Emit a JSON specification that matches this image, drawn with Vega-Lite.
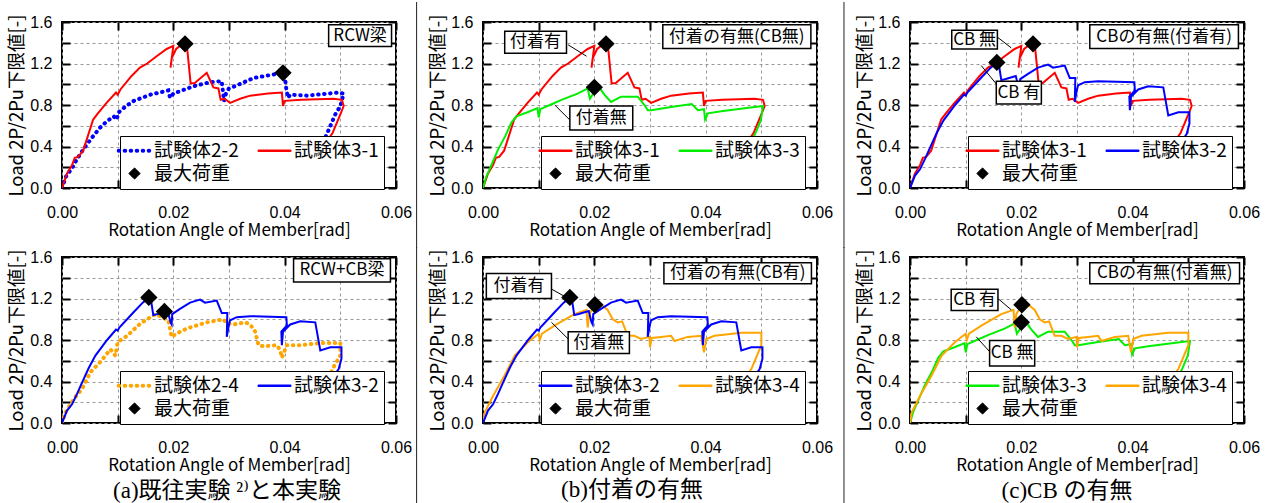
{
  "$schema": "https://vega.github.io/schema/vega-lite/v6.json",
  "background": "white",
  "padding": {"left": 6, "top": 0, "right": 5, "bottom": 0},
  "datasets": {
    "s31": [
      {"x": 0, "y": 0}, {"x": 0.0009, "y": 0.14}, {"x": 0.0018, "y": 0.22}, {"x": 0.0023, "y": 0.29}, {"x": 0.0029, "y": 0.3},
      {"x": 0.0038, "y": 0.36}, {"x": 0.0056, "y": 0.66}, {"x": 0.0063, "y": 0.71}, {"x": 0.008, "y": 0.82}, {"x": 0.0097, "y": 0.92},
      {"x": 0.01, "y": 0.9}, {"x": 0.0105, "y": 0.95}, {"x": 0.0125, "y": 1.08}, {"x": 0.014, "y": 1.16}, {"x": 0.0153, "y": 1.2},
      {"x": 0.017, "y": 1.27}, {"x": 0.0188, "y": 1.34}, {"x": 0.02, "y": 1.37}, {"x": 0.0195, "y": 1.16}, {"x": 0.0197, "y": 1.25},
      {"x": 0.0205, "y": 1.34}, {"x": 0.0212, "y": 1.37}, {"x": 0.0221, "y": 1.39}, {"x": 0.0225, "y": 1.34}, {"x": 0.0231, "y": 1.01},
      {"x": 0.0238, "y": 1.01}, {"x": 0.026, "y": 1.11}, {"x": 0.0272, "y": 0.97}, {"x": 0.0281, "y": 0.96}, {"x": 0.0285, "y": 0.85},
      {"x": 0.0292, "y": 0.86}, {"x": 0.0302, "y": 0.82}, {"x": 0.032, "y": 0.86}, {"x": 0.0338, "y": 0.89}, {"x": 0.037, "y": 0.91},
      {"x": 0.0395, "y": 0.92}, {"x": 0.0397, "y": 0.79}, {"x": 0.04, "y": 0.84}, {"x": 0.043, "y": 0.85}, {"x": 0.0488, "y": 0.86},
      {"x": 0.0503, "y": 0.85}, {"x": 0.0506, "y": 0.79}, {"x": 0.05, "y": 0.71}, {"x": 0.0486, "y": 0.53}, {"x": 0.0411, "y": -0.05}
    ],
    "s22": [
      {"x": 0, "y": 0}, {"x": 0.0008, "y": 0.12}, {"x": 0.0018, "y": 0.19}, {"x": 0.0026, "y": 0.27}, {"x": 0.0038, "y": 0.37},
      {"x": 0.0053, "y": 0.48}, {"x": 0.0068, "y": 0.58}, {"x": 0.008, "y": 0.64}, {"x": 0.0093, "y": 0.69}, {"x": 0.0098, "y": 0.66},
      {"x": 0.0102, "y": 0.73}, {"x": 0.0115, "y": 0.79}, {"x": 0.0129, "y": 0.84}, {"x": 0.0159, "y": 0.9}, {"x": 0.0191, "y": 0.94},
      {"x": 0.0194, "y": 0.87}, {"x": 0.02, "y": 0.91}, {"x": 0.0236, "y": 0.98}, {"x": 0.0266, "y": 1.02}, {"x": 0.0287, "y": 1.03},
      {"x": 0.0291, "y": 0.84}, {"x": 0.0295, "y": 0.92}, {"x": 0.03, "y": 0.96}, {"x": 0.031, "y": 0.98}, {"x": 0.0344, "y": 1.06},
      {"x": 0.0386, "y": 1.1}, {"x": 0.04, "y": 1.09}, {"x": 0.0403, "y": 0.95}, {"x": 0.0406, "y": 0.87}, {"x": 0.041, "y": 0.9},
      {"x": 0.044, "y": 0.89}, {"x": 0.0497, "y": 0.92}, {"x": 0.0506, "y": 0.91}, {"x": 0.05, "y": 0.79}, {"x": 0.0491, "y": 0.71},
      {"x": 0.0479, "y": 0.56}, {"x": 0.047, "y": 0.45}
    ],
    "s33": [
      {"x": 0, "y": 0}, {"x": 0.0006, "y": 0.11}, {"x": 0.0015, "y": 0.22}, {"x": 0.0027, "y": 0.37}, {"x": 0.004, "y": 0.5},
      {"x": 0.0051, "y": 0.63}, {"x": 0.006, "y": 0.69}, {"x": 0.008, "y": 0.73}, {"x": 0.0098, "y": 0.77}, {"x": 0.01, "y": 0.68},
      {"x": 0.0103, "y": 0.76}, {"x": 0.012, "y": 0.8}, {"x": 0.0141, "y": 0.85}, {"x": 0.017, "y": 0.91}, {"x": 0.0188, "y": 0.96},
      {"x": 0.0192, "y": 0.86}, {"x": 0.0197, "y": 0.9}, {"x": 0.02, "y": 0.97}, {"x": 0.0209, "y": 0.97}, {"x": 0.0218, "y": 0.9},
      {"x": 0.023, "y": 0.83}, {"x": 0.0248, "y": 0.88}, {"x": 0.0278, "y": 0.88}, {"x": 0.029, "y": 0.8}, {"x": 0.0296, "y": 0.75},
      {"x": 0.0302, "y": 0.75}, {"x": 0.0338, "y": 0.78}, {"x": 0.0375, "y": 0.81}, {"x": 0.0386, "y": 0.75}, {"x": 0.0397, "y": 0.76},
      {"x": 0.0399, "y": 0.66}, {"x": 0.0404, "y": 0.72}, {"x": 0.0428, "y": 0.74}, {"x": 0.0488, "y": 0.78}, {"x": 0.0503, "y": 0.79},
      {"x": 0.0499, "y": 0.65}, {"x": 0.0488, "y": 0.51}, {"x": 0.0422, "y": -0.05}
    ],
    "s32": [
      {"x": 0, "y": 0}, {"x": 0.0009, "y": 0.12}, {"x": 0.0018, "y": 0.18}, {"x": 0.0027, "y": 0.28}, {"x": 0.0036, "y": 0.39},
      {"x": 0.0048, "y": 0.53}, {"x": 0.006, "y": 0.65}, {"x": 0.0081, "y": 0.8}, {"x": 0.0097, "y": 0.9}, {"x": 0.01, "y": 0.89},
      {"x": 0.0103, "y": 0.92}, {"x": 0.0129, "y": 1.07}, {"x": 0.0145, "y": 1.16}, {"x": 0.0156, "y": 1.21}, {"x": 0.016, "y": 1.18},
      {"x": 0.0164, "y": 1.04}, {"x": 0.0172, "y": 1.05}, {"x": 0.019, "y": 1.08}, {"x": 0.0195, "y": 0.97}, {"x": 0.0197, "y": 0.95},
      {"x": 0.0198, "y": 1.05}, {"x": 0.0212, "y": 1.1}, {"x": 0.023, "y": 1.16}, {"x": 0.0248, "y": 1.19}, {"x": 0.0257, "y": 1.16},
      {"x": 0.0278, "y": 1.18}, {"x": 0.0287, "y": 1.06}, {"x": 0.0297, "y": 1.06}, {"x": 0.0296, "y": 0.83}, {"x": 0.03, "y": 0.95},
      {"x": 0.0302, "y": 0.99}, {"x": 0.0314, "y": 1.02}, {"x": 0.0338, "y": 1.03}, {"x": 0.0403, "y": 1.02}, {"x": 0.0404, "y": 0.94},
      {"x": 0.0394, "y": 0.88}, {"x": 0.0395, "y": 0.75}, {"x": 0.0397, "y": 0.88}, {"x": 0.041, "y": 0.95}, {"x": 0.0428, "y": 0.98},
      {"x": 0.0455, "y": 0.97}, {"x": 0.0464, "y": 0.7}, {"x": 0.0482, "y": 0.73}, {"x": 0.0502, "y": 0.73}, {"x": 0.0502, "y": 0.62},
      {"x": 0.0497, "y": 0.52}, {"x": 0.042, "y": -0.05}
    ],
    "s34": [
      {"x": 0, "y": 0}, {"x": 0.0003, "y": 0.1}, {"x": 0.0018, "y": 0.26}, {"x": 0.0039, "y": 0.46}, {"x": 0.0057, "y": 0.65},
      {"x": 0.0081, "y": 0.78}, {"x": 0.01, "y": 0.86}, {"x": 0.0102, "y": 0.8}, {"x": 0.0106, "y": 0.86}, {"x": 0.0129, "y": 0.94},
      {"x": 0.0164, "y": 1.05}, {"x": 0.0186, "y": 1.09}, {"x": 0.0188, "y": 0.92}, {"x": 0.0191, "y": 1.05}, {"x": 0.02, "y": 1.13},
      {"x": 0.0215, "y": 1.13}, {"x": 0.0224, "y": 1.09}, {"x": 0.0233, "y": 1.0}, {"x": 0.0242, "y": 0.97}, {"x": 0.025, "y": 0.98},
      {"x": 0.026, "y": 0.84}, {"x": 0.0272, "y": 0.84}, {"x": 0.0284, "y": 0.81}, {"x": 0.0299, "y": 0.83}, {"x": 0.03, "y": 0.73},
      {"x": 0.0303, "y": 0.82}, {"x": 0.032, "y": 0.83}, {"x": 0.0338, "y": 0.84}, {"x": 0.0344, "y": 0.79}, {"x": 0.0368, "y": 0.83},
      {"x": 0.0392, "y": 0.84}, {"x": 0.0397, "y": 0.68}, {"x": 0.0401, "y": 0.81}, {"x": 0.0416, "y": 0.84}, {"x": 0.0464, "y": 0.87},
      {"x": 0.05, "y": 0.87}, {"x": 0.05, "y": 0.75}, {"x": 0.0482, "y": 0.52}, {"x": 0.0409, "y": -0.05}
    ],
    "s24": [
      {"x": 0, "y": 0}, {"x": 0.0006, "y": 0.1}, {"x": 0.0021, "y": 0.23}, {"x": 0.0036, "y": 0.33}, {"x": 0.0051, "y": 0.49},
      {"x": 0.0069, "y": 0.59}, {"x": 0.0087, "y": 0.71}, {"x": 0.0096, "y": 0.65}, {"x": 0.01, "y": 0.78}, {"x": 0.0117, "y": 0.84},
      {"x": 0.0141, "y": 0.96}, {"x": 0.0153, "y": 1.0}, {"x": 0.0168, "y": 1.05}, {"x": 0.0191, "y": 0.99}, {"x": 0.0197, "y": 0.83},
      {"x": 0.0205, "y": 0.86}, {"x": 0.0224, "y": 0.91}, {"x": 0.026, "y": 0.97}, {"x": 0.029, "y": 1.0}, {"x": 0.0296, "y": 0.96},
      {"x": 0.0308, "y": 0.95}, {"x": 0.0329, "y": 0.97}, {"x": 0.0338, "y": 0.95}, {"x": 0.0347, "y": 0.88}, {"x": 0.0353, "y": 0.75},
      {"x": 0.0362, "y": 0.74}, {"x": 0.0386, "y": 0.75}, {"x": 0.0392, "y": 0.7}, {"x": 0.0395, "y": 0.63}, {"x": 0.0404, "y": 0.75},
      {"x": 0.0428, "y": 0.75}, {"x": 0.0464, "y": 0.77}, {"x": 0.05, "y": 0.77}, {"x": 0.05, "y": 0.65}, {"x": 0.0489, "y": 0.55},
      {"x": 0.048, "y": 0.45}
    ],
    "peaks": [
      {"k": "3-1", "x": 0.0221, "y": 1.39}, {"k": "2-2", "x": 0.0397, "y": 1.11}, {"k": "3-3", "x": 0.02, "y": 0.97},
      {"k": "3-2", "x": 0.0156, "y": 1.21}, {"k": "2-4", "x": 0.0184, "y": 1.075}, {"k": "3-4", "x": 0.0201, "y": 1.14}
    ],
    "boxes": [
      {"p": "a", "t": "RCW梁", "x": 0.0479, "x2": 0.0592, "y": 1.365, "y2": 1.574},
      {"p": "b", "t": "付着の有無(CB無)", "x": 0.0323, "x2": 0.0589, "y": 1.345, "y2": 1.574},
      {"p": "b", "t": "付着有", "x": 0.0039, "x2": 0.015, "y": 1.3, "y2": 1.51},
      {"p": "b", "t": "付着無", "x": 0.0156, "x2": 0.0269, "y": 0.56, "y2": 0.79},
      {"p": "c", "t": "CBの有無(付着有)", "x": 0.0323, "x2": 0.059, "y": 1.345, "y2": 1.574},
      {"p": "c", "t": "CB 無", "x": 0.0075, "x2": 0.0157, "y": 1.34, "y2": 1.52},
      {"p": "c", "t": "CB 有", "x": 0.0155, "x2": 0.0236, "y": 0.81, "y2": 1.03},
      {"p": "d", "t": "RCW+CB梁", "x": 0.0416, "x2": 0.059, "y": 1.358, "y2": 1.584},
      {"p": "e", "t": "付着の有無(CB有)", "x": 0.0325, "x2": 0.059, "y": 1.342, "y2": 1.545},
      {"p": "e", "t": "付着有", "x": 0.0006, "x2": 0.0123, "y": 1.2, "y2": 1.44},
      {"p": "e", "t": "付着無", "x": 0.0153, "x2": 0.0263, "y": 0.67, "y2": 0.88},
      {"p": "f", "t": "CBの有無(付着無)", "x": 0.0323, "x2": 0.0592, "y": 1.342, "y2": 1.545},
      {"p": "f", "t": "CB 有", "x": 0.0074, "x2": 0.0158, "y": 1.085, "y2": 1.29},
      {"p": "f", "t": "CB 無", "x": 0.0143, "x2": 0.0224, "y": 0.55, "y2": 0.795}
    ],
    "leaders": [
      {"p": "b", "x": 0.0153, "y": 1.38, "x2": 0.0186, "y2": 1.27},
      {"p": "b", "x": 0.0129, "y": 0.8, "x2": 0.0157, "y2": 0.65},
      {"p": "c", "x": 0.0158, "y": 1.45, "x2": 0.0182, "y2": 1.35},
      {"p": "c", "x": 0.0128, "y": 1.18, "x2": 0.0157, "y2": 0.99},
      {"p": "e", "x": 0.012, "y": 1.3, "x2": 0.015, "y2": 1.21},
      {"p": "e", "x": 0.0123, "y": 0.97, "x2": 0.0153, "y2": 0.81},
      {"p": "f", "x": 0.0158, "y": 1.2, "x2": 0.0182, "y2": 1.09},
      {"p": "f", "x": 0.0119, "y": 0.83, "x2": 0.0146, "y2": 0.67}
    ],
    "dividers": [
      {"d": "a1", "x": 0.0637, "y": 1.793, "y2": -0.578},
      {"d": "c1", "x": -0.01186, "y": 1.793, "y2": -0.578},
      {"d": "a2", "x": 0.0637, "y": 1.696, "y2": -0.83},
      {"d": "c2", "x": -0.01186, "y": 1.696, "y2": -0.83},
      {"d": "b2", "x": 0.03, "y": 1.0, "y2": -0.83}
    ]
  },
  "vconcat": [
    {
      "hconcat": [
        {
          "width": 334, "height": 166,
          "encoding": {
            "x": {"field": "x", "type": "quantitative", "scale": {"domain": [0, 0.06], "nice": false}, "title": "Rotation Angle of Member[rad]", "axis": {"values": [0, 0.01, 0.02, 0.03, 0.04, 0.05, 0.06]}},
            "y": {"field": "y", "type": "quantitative", "scale": {"domain": [0, 1.6], "nice": false}, "title": "Load 2P/2Pu下限値[-]", "axis": {"values": [0, 0.2, 0.4, 0.6, 0.8, 1.0, 1.2, 1.4, 1.6]}}
          },
          "layer": [
            {"layer": [
              {"data": {"name": "s22"}, "mark": {"type": "line", "clip": true, "strokeWidth": 4, "strokeDash": [0.5, 5.5], "strokeCap": "round"},
               "encoding": {"order": {"value": null}, "color": {"datum": "試験体2-2", "type": "nominal", "scale": {"domain": ["試験体2-2", "試験体3-1", "最大荷重"], "range": ["#0000ff", "#ff0000", "#000000"]},
                 "legend": {"orient": "none", "legendX": 58, "legendY": 114, "title": null, "columns": 2, "direction": "horizontal",
                   "encode": {"symbols": {"update": {
                     "shape": {"signal": "datum.value === '最大荷重' ? 'diamond' : 'stroke'"},
                     "size": {"signal": "datum.value === '最大荷重' ? 120 : 1000"},
                     "fill": {"signal": "datum.value === '最大荷重' ? '#000000' : 'transparent'"},
                     "strokeDash": {"signal": "indexof(['試験体2-2', '試験体2-4'], datum.value) >= 0 ? [0.5, 5.5] : [1, 0]"},
                     "strokeWidth": {"signal": "indexof(['試験体2-2', '試験体2-4'], datum.value) >= 0 ? 4 : (datum.value === '最大荷重' ? 1 : 2.5)"},
                     "strokeCap": {"value": "round"}}}}}}}},
              {"data": {"name": "s31"}, "mark": {"type": "line", "clip": true, "strokeWidth": 2},
               "encoding": {"order": {"value": null}, "color": {"datum": "試験体3-1", "type": "nominal", "scale": {"domain": ["試験体2-2", "試験体3-1", "最大荷重"], "range": ["#0000ff", "#ff0000", "#000000"]}}}},
              {"data": {"name": "peaks"}, "transform": [{"filter": {"field": "k", "oneOf": ["3-1", "2-2"]}}],
               "mark": {"type": "point", "shape": "diamond", "filled": true, "size": 300, "opacity": 1},
               "encoding": {"color": {"datum": "最大荷重", "type": "nominal", "scale": {"domain": ["試験体2-2", "試験体3-1", "最大荷重"], "range": ["#0000ff", "#ff0000", "#000000"]}}}},
              {"data": {"name": "boxes"}, "transform": [{"filter": "datum.p === 'a'"}],
               "mark": {"type": "rect", "fill": "white", "stroke": "black", "strokeWidth": 1.5},
               "encoding": {"x2": {"field": "x2"}, "y2": {"field": "y2"}}},
              {"data": {"name": "boxes"}, "transform": [{"filter": "datum.p === 'a'"}, {"calculate": "(datum.x + datum.x2) / 2", "as": "xm"}, {"calculate": "(datum.y + datum.y2) / 2", "as": "ym"}],
               "mark": {"type": "text", "fontSize": 17, "color": "black"},
               "encoding": {
                 "x": {"field": "xm", "type": "quantitative", "scale": {"domain": [0, 0.06], "nice": false}, "title": "Rotation Angle of Member[rad]", "axis": {"values": [0, 0.01, 0.02, 0.03, 0.04, 0.05, 0.06]}},
                 "y": {"field": "ym", "type": "quantitative", "scale": {"domain": [0, 1.6], "nice": false}, "title": "Load 2P/2Pu下限値[-]", "axis": {"values": [0, 0.2, 0.4, 0.6, 0.8, 1.0, 1.2, 1.4, 1.6]}},
                 "text": {"field": "t"}}}
            ]},
            {"data": {"name": "peaks"}, "mark": {"type": "point", "opacity": 0},
             "encoding": {
               "x": {"field": "x", "type": "quantitative", "scale": {"domain": [0, 0.06], "nice": false}, "axis": {"orient": "top", "labels": false, "grid": false, "title": null, "values": [0, 0.01, 0.02, 0.03, 0.04, 0.05, 0.06]}},
               "y": {"field": "y", "type": "quantitative", "scale": {"domain": [0, 1.6], "nice": false}, "axis": {"orient": "right", "labels": false, "grid": false, "title": null, "values": [0, 0.2, 0.4, 0.6, 0.8, 1.0, 1.2, 1.4, 1.6]}}}},
            {"data": {"name": "dividers"}, "transform": [{"filter": "datum.d === 'a1'"}],
             "mark": {"type": "rule", "clip": false, "color": "#222222", "strokeWidth": 1},
             "encoding": {
               "x": {"field": "x", "type": "quantitative", "scale": {"domain": [0, 0.06], "nice": false}, "axis": null},
               "y": {"field": "y", "type": "quantitative", "scale": {"domain": [0, 1.6], "nice": false}, "axis": null},
               "y2": {"field": "y2"}}}
          ],
          "resolve": {"axis": {"x": "independent", "y": "independent"}}
        },
        {
          "width": 334, "height": 166,
          "encoding": {
            "x": {"field": "x", "type": "quantitative", "scale": {"domain": [0, 0.06], "nice": false}, "title": "Rotation Angle of Member[rad]", "axis": {"values": [0, 0.01, 0.02, 0.03, 0.04, 0.05, 0.06]}},
            "y": {"field": "y", "type": "quantitative", "scale": {"domain": [0, 1.6], "nice": false}, "title": "Load 2P/2Pu下限値[-]", "axis": {"values": [0, 0.2, 0.4, 0.6, 0.8, 1.0, 1.2, 1.4, 1.6]}}
          },
          "layer": [
            {"layer": [
              {"data": {"name": "s31"}, "mark": {"type": "line", "clip": true, "strokeWidth": 2},
               "encoding": {"order": {"value": null}, "color": {"datum": "試験体3-1", "type": "nominal", "scale": {"domain": ["試験体3-1", "試験体3-3", "最大荷重"], "range": ["#ff0000", "#00ee00", "#000000"]},
                 "legend": {"orient": "none", "legendX": 58, "legendY": 114, "title": null, "columns": 2, "direction": "horizontal",
                   "encode": {"symbols": {"update": {
                     "shape": {"signal": "datum.value === '最大荷重' ? 'diamond' : 'stroke'"},
                     "size": {"signal": "datum.value === '最大荷重' ? 120 : 1000"},
                     "fill": {"signal": "datum.value === '最大荷重' ? '#000000' : 'transparent'"},
                     "strokeDash": {"signal": "indexof(['試験体2-2', '試験体2-4'], datum.value) >= 0 ? [0.5, 5.5] : [1, 0]"},
                     "strokeWidth": {"signal": "indexof(['試験体2-2', '試験体2-4'], datum.value) >= 0 ? 4 : (datum.value === '最大荷重' ? 1 : 2.5)"},
                     "strokeCap": {"value": "round"}}}}}}}},
              {"data": {"name": "s33"}, "mark": {"type": "line", "clip": true, "strokeWidth": 2},
               "encoding": {"order": {"value": null}, "color": {"datum": "試験体3-3", "type": "nominal", "scale": {"domain": ["試験体3-1", "試験体3-3", "最大荷重"], "range": ["#ff0000", "#00ee00", "#000000"]}}}},
              {"data": {"name": "leaders"}, "transform": [{"filter": "datum.p === 'b'"}],
               "mark": {"type": "rule", "color": "black", "strokeWidth": 1},
               "encoding": {"x2": {"field": "x2"}, "y2": {"field": "y2"}}},
              {"data": {"name": "peaks"}, "transform": [{"filter": {"field": "k", "oneOf": ["3-1", "3-3"]}}],
               "mark": {"type": "point", "shape": "diamond", "filled": true, "size": 300, "opacity": 1},
               "encoding": {"color": {"datum": "最大荷重", "type": "nominal", "scale": {"domain": ["試験体3-1", "試験体3-3", "最大荷重"], "range": ["#ff0000", "#00ee00", "#000000"]}}}},
              {"data": {"name": "boxes"}, "transform": [{"filter": "datum.p === 'b'"}],
               "mark": {"type": "rect", "fill": "white", "stroke": "black", "strokeWidth": 1.5},
               "encoding": {"x2": {"field": "x2"}, "y2": {"field": "y2"}}},
              {"data": {"name": "boxes"}, "transform": [{"filter": "datum.p === 'b'"}, {"calculate": "(datum.x + datum.x2) / 2", "as": "xm"}, {"calculate": "(datum.y + datum.y2) / 2", "as": "ym"}],
               "mark": {"type": "text", "fontSize": 17, "color": "black"},
               "encoding": {
                 "x": {"field": "xm", "type": "quantitative", "scale": {"domain": [0, 0.06], "nice": false}, "title": "Rotation Angle of Member[rad]", "axis": {"values": [0, 0.01, 0.02, 0.03, 0.04, 0.05, 0.06]}},
                 "y": {"field": "ym", "type": "quantitative", "scale": {"domain": [0, 1.6], "nice": false}, "title": "Load 2P/2Pu下限値[-]", "axis": {"values": [0, 0.2, 0.4, 0.6, 0.8, 1.0, 1.2, 1.4, 1.6]}},
                 "text": {"field": "t"}}}
            ]},
            {"data": {"name": "peaks"}, "mark": {"type": "point", "opacity": 0},
             "encoding": {
               "x": {"field": "x", "type": "quantitative", "scale": {"domain": [0, 0.06], "nice": false}, "axis": {"orient": "top", "labels": false, "grid": false, "title": null, "values": [0, 0.01, 0.02, 0.03, 0.04, 0.05, 0.06]}},
               "y": {"field": "y", "type": "quantitative", "scale": {"domain": [0, 1.6], "nice": false}, "axis": {"orient": "right", "labels": false, "grid": false, "title": null, "values": [0, 0.2, 0.4, 0.6, 0.8, 1.0, 1.2, 1.4, 1.6]}}}}
          ],
          "resolve": {"axis": {"x": "independent", "y": "independent"}}
        },
        {
          "width": 334, "height": 166,
          "encoding": {
            "x": {"field": "x", "type": "quantitative", "scale": {"domain": [0, 0.06], "nice": false}, "title": "Rotation Angle of Member[rad]", "axis": {"values": [0, 0.01, 0.02, 0.03, 0.04, 0.05, 0.06]}},
            "y": {"field": "y", "type": "quantitative", "scale": {"domain": [0, 1.6], "nice": false}, "title": "Load 2P/2Pu下限値[-]", "axis": {"values": [0, 0.2, 0.4, 0.6, 0.8, 1.0, 1.2, 1.4, 1.6]}}
          },
          "layer": [
            {"layer": [
              {"data": {"name": "s31"}, "mark": {"type": "line", "clip": true, "strokeWidth": 2},
               "encoding": {"order": {"value": null}, "color": {"datum": "試験体3-1", "type": "nominal", "scale": {"domain": ["試験体3-1", "試験体3-2", "最大荷重"], "range": ["#ff0000", "#0000ff", "#000000"]},
                 "legend": {"orient": "none", "legendX": 58, "legendY": 114, "title": null, "columns": 2, "direction": "horizontal",
                   "encode": {"symbols": {"update": {
                     "shape": {"signal": "datum.value === '最大荷重' ? 'diamond' : 'stroke'"},
                     "size": {"signal": "datum.value === '最大荷重' ? 120 : 1000"},
                     "fill": {"signal": "datum.value === '最大荷重' ? '#000000' : 'transparent'"},
                     "strokeDash": {"signal": "indexof(['試験体2-2', '試験体2-4'], datum.value) >= 0 ? [0.5, 5.5] : [1, 0]"},
                     "strokeWidth": {"signal": "indexof(['試験体2-2', '試験体2-4'], datum.value) >= 0 ? 4 : (datum.value === '最大荷重' ? 1 : 2.5)"},
                     "strokeCap": {"value": "round"}}}}}}}},
              {"data": {"name": "s32"}, "mark": {"type": "line", "clip": true, "strokeWidth": 2},
               "encoding": {"order": {"value": null}, "color": {"datum": "試験体3-2", "type": "nominal", "scale": {"domain": ["試験体3-1", "試験体3-2", "最大荷重"], "range": ["#ff0000", "#0000ff", "#000000"]}}}},
              {"data": {"name": "leaders"}, "transform": [{"filter": "datum.p === 'c'"}],
               "mark": {"type": "rule", "color": "black", "strokeWidth": 1},
               "encoding": {"x2": {"field": "x2"}, "y2": {"field": "y2"}}},
              {"data": {"name": "peaks"}, "transform": [{"filter": {"field": "k", "oneOf": ["3-1", "3-2"]}}],
               "mark": {"type": "point", "shape": "diamond", "filled": true, "size": 300, "opacity": 1},
               "encoding": {"color": {"datum": "最大荷重", "type": "nominal", "scale": {"domain": ["試験体3-1", "試験体3-2", "最大荷重"], "range": ["#ff0000", "#0000ff", "#000000"]}}}},
              {"data": {"name": "boxes"}, "transform": [{"filter": "datum.p === 'c'"}],
               "mark": {"type": "rect", "fill": "white", "stroke": "black", "strokeWidth": 1.5},
               "encoding": {"x2": {"field": "x2"}, "y2": {"field": "y2"}}},
              {"data": {"name": "boxes"}, "transform": [{"filter": "datum.p === 'c'"}, {"calculate": "(datum.x + datum.x2) / 2", "as": "xm"}, {"calculate": "(datum.y + datum.y2) / 2", "as": "ym"}],
               "mark": {"type": "text", "fontSize": 17, "color": "black"},
               "encoding": {
                 "x": {"field": "xm", "type": "quantitative", "scale": {"domain": [0, 0.06], "nice": false}, "title": "Rotation Angle of Member[rad]", "axis": {"values": [0, 0.01, 0.02, 0.03, 0.04, 0.05, 0.06]}},
                 "y": {"field": "ym", "type": "quantitative", "scale": {"domain": [0, 1.6], "nice": false}, "title": "Load 2P/2Pu下限値[-]", "axis": {"values": [0, 0.2, 0.4, 0.6, 0.8, 1.0, 1.2, 1.4, 1.6]}},
                 "text": {"field": "t"}}}
            ]},
            {"data": {"name": "peaks"}, "mark": {"type": "point", "opacity": 0},
             "encoding": {
               "x": {"field": "x", "type": "quantitative", "scale": {"domain": [0, 0.06], "nice": false}, "axis": {"orient": "top", "labels": false, "grid": false, "title": null, "values": [0, 0.01, 0.02, 0.03, 0.04, 0.05, 0.06]}},
               "y": {"field": "y", "type": "quantitative", "scale": {"domain": [0, 1.6], "nice": false}, "axis": {"orient": "right", "labels": false, "grid": false, "title": null, "values": [0, 0.2, 0.4, 0.6, 0.8, 1.0, 1.2, 1.4, 1.6]}}}},
            {"data": {"name": "dividers"}, "transform": [{"filter": "datum.d === 'c1'"}],
             "mark": {"type": "rule", "clip": false, "color": "#222222", "strokeWidth": 1},
             "encoding": {
               "x": {"field": "x", "type": "quantitative", "scale": {"domain": [0, 0.06], "nice": false}, "axis": null},
               "y": {"field": "y", "type": "quantitative", "scale": {"domain": [0, 1.6], "nice": false}, "axis": null},
               "y2": {"field": "y2"}}}
          ],
          "resolve": {"axis": {"x": "independent", "y": "independent"}}
        }
      ],
      "spacing": 8,
      "resolve": {"scale": {"color": "independent"}, "legend": {"color": "independent"}}
    },
    {
      "hconcat": [
        {
          "width": 334, "height": 166,
          "title": {"text": "(a)既往実験 ²⁾と本実験", "orient": "bottom", "anchor": "middle", "dx": -2},
          "encoding": {
            "x": {"field": "x", "type": "quantitative", "scale": {"domain": [0, 0.06], "nice": false}, "title": "Rotation Angle of Member[rad]", "axis": {"values": [0, 0.01, 0.02, 0.03, 0.04, 0.05, 0.06]}},
            "y": {"field": "y", "type": "quantitative", "scale": {"domain": [0, 1.6], "nice": false}, "title": "Load 2P/2Pu下限値[-]", "axis": {"values": [0, 0.2, 0.4, 0.6, 0.8, 1.0, 1.2, 1.4, 1.6]}}
          },
          "layer": [
            {"layer": [
              {"data": {"name": "s24"}, "mark": {"type": "line", "clip": true, "strokeWidth": 4, "strokeDash": [0.5, 5.5], "strokeCap": "round"},
               "encoding": {"order": {"value": null}, "color": {"datum": "試験体2-4", "type": "nominal", "scale": {"domain": ["試験体2-4", "試験体3-2", "最大荷重"], "range": ["#ffa500", "#0000ff", "#000000"]},
                 "legend": {"orient": "none", "legendX": 58, "legendY": 114, "title": null, "columns": 2, "direction": "horizontal",
                   "encode": {"symbols": {"update": {
                     "shape": {"signal": "datum.value === '最大荷重' ? 'diamond' : 'stroke'"},
                     "size": {"signal": "datum.value === '最大荷重' ? 120 : 1000"},
                     "fill": {"signal": "datum.value === '最大荷重' ? '#000000' : 'transparent'"},
                     "strokeDash": {"signal": "indexof(['試験体2-2', '試験体2-4'], datum.value) >= 0 ? [0.5, 5.5] : [1, 0]"},
                     "strokeWidth": {"signal": "indexof(['試験体2-2', '試験体2-4'], datum.value) >= 0 ? 4 : (datum.value === '最大荷重' ? 1 : 2.5)"},
                     "strokeCap": {"value": "round"}}}}}}}},
              {"data": {"name": "s32"}, "mark": {"type": "line", "clip": true, "strokeWidth": 2},
               "encoding": {"order": {"value": null}, "color": {"datum": "試験体3-2", "type": "nominal", "scale": {"domain": ["試験体2-4", "試験体3-2", "最大荷重"], "range": ["#ffa500", "#0000ff", "#000000"]}}}},
              {"data": {"name": "peaks"}, "transform": [{"filter": {"field": "k", "oneOf": ["2-4", "3-2"]}}],
               "mark": {"type": "point", "shape": "diamond", "filled": true, "size": 300, "opacity": 1},
               "encoding": {"color": {"datum": "最大荷重", "type": "nominal", "scale": {"domain": ["試験体2-4", "試験体3-2", "最大荷重"], "range": ["#ffa500", "#0000ff", "#000000"]}}}},
              {"data": {"name": "boxes"}, "transform": [{"filter": "datum.p === 'd'"}],
               "mark": {"type": "rect", "fill": "white", "stroke": "black", "strokeWidth": 1.5},
               "encoding": {"x2": {"field": "x2"}, "y2": {"field": "y2"}}},
              {"data": {"name": "boxes"}, "transform": [{"filter": "datum.p === 'd'"}, {"calculate": "(datum.x + datum.x2) / 2", "as": "xm"}, {"calculate": "(datum.y + datum.y2) / 2", "as": "ym"}],
               "mark": {"type": "text", "fontSize": 17, "color": "black"},
               "encoding": {
                 "x": {"field": "xm", "type": "quantitative", "scale": {"domain": [0, 0.06], "nice": false}, "title": "Rotation Angle of Member[rad]", "axis": {"values": [0, 0.01, 0.02, 0.03, 0.04, 0.05, 0.06]}},
                 "y": {"field": "ym", "type": "quantitative", "scale": {"domain": [0, 1.6], "nice": false}, "title": "Load 2P/2Pu下限値[-]", "axis": {"values": [0, 0.2, 0.4, 0.6, 0.8, 1.0, 1.2, 1.4, 1.6]}},
                 "text": {"field": "t"}}}
            ]},
            {"data": {"name": "peaks"}, "mark": {"type": "point", "opacity": 0},
             "encoding": {
               "x": {"field": "x", "type": "quantitative", "scale": {"domain": [0, 0.06], "nice": false}, "axis": {"orient": "top", "labels": false, "grid": false, "title": null, "values": [0, 0.01, 0.02, 0.03, 0.04, 0.05, 0.06]}},
               "y": {"field": "y", "type": "quantitative", "scale": {"domain": [0, 1.6], "nice": false}, "axis": {"orient": "right", "labels": false, "grid": false, "title": null, "values": [0, 0.2, 0.4, 0.6, 0.8, 1.0, 1.2, 1.4, 1.6]}}}},
            {"data": {"name": "dividers"}, "transform": [{"filter": "datum.d === 'a2'"}],
             "mark": {"type": "rule", "clip": false, "color": "#222222", "strokeWidth": 1},
             "encoding": {
               "x": {"field": "x", "type": "quantitative", "scale": {"domain": [0, 0.06], "nice": false}, "axis": null},
               "y": {"field": "y", "type": "quantitative", "scale": {"domain": [0, 1.6], "nice": false}, "axis": null},
               "y2": {"field": "y2"}}}
          ],
          "resolve": {"axis": {"x": "independent", "y": "independent"}}
        },
        {
          "width": 334, "height": 166,
          "title": {"text": "(b)付着の有無", "orient": "bottom", "anchor": "middle", "dx": -18},
          "encoding": {
            "x": {"field": "x", "type": "quantitative", "scale": {"domain": [0, 0.06], "nice": false}, "title": "Rotation Angle of Member[rad]", "axis": {"values": [0, 0.01, 0.02, 0.03, 0.04, 0.05, 0.06]}},
            "y": {"field": "y", "type": "quantitative", "scale": {"domain": [0, 1.6], "nice": false}, "title": "Load 2P/2Pu下限値[-]", "axis": {"values": [0, 0.2, 0.4, 0.6, 0.8, 1.0, 1.2, 1.4, 1.6]}}
          },
          "layer": [
            {"layer": [
              {"data": {"name": "s34"}, "mark": {"type": "line", "clip": true, "strokeWidth": 2},
               "encoding": {"order": {"value": null}, "color": {"datum": "試験体3-4", "type": "nominal", "scale": {"domain": ["試験体3-2", "試験体3-4", "最大荷重"], "range": ["#0000ff", "#ffa500", "#000000"]},
                 "legend": {"orient": "none", "legendX": 58, "legendY": 114, "title": null, "columns": 2, "direction": "horizontal",
                   "encode": {"symbols": {"update": {
                     "shape": {"signal": "datum.value === '最大荷重' ? 'diamond' : 'stroke'"},
                     "size": {"signal": "datum.value === '最大荷重' ? 120 : 1000"},
                     "fill": {"signal": "datum.value === '最大荷重' ? '#000000' : 'transparent'"},
                     "strokeDash": {"signal": "indexof(['試験体2-2', '試験体2-4'], datum.value) >= 0 ? [0.5, 5.5] : [1, 0]"},
                     "strokeWidth": {"signal": "indexof(['試験体2-2', '試験体2-4'], datum.value) >= 0 ? 4 : (datum.value === '最大荷重' ? 1 : 2.5)"},
                     "strokeCap": {"value": "round"}}}}}}}},
              {"data": {"name": "s32"}, "mark": {"type": "line", "clip": true, "strokeWidth": 2},
               "encoding": {"order": {"value": null}, "color": {"datum": "試験体3-2", "type": "nominal", "scale": {"domain": ["試験体3-2", "試験体3-4", "最大荷重"], "range": ["#0000ff", "#ffa500", "#000000"]}}}},
              {"data": {"name": "leaders"}, "transform": [{"filter": "datum.p === 'e'"}],
               "mark": {"type": "rule", "color": "black", "strokeWidth": 1},
               "encoding": {"x2": {"field": "x2"}, "y2": {"field": "y2"}}},
              {"data": {"name": "peaks"}, "transform": [{"filter": {"field": "k", "oneOf": ["3-2", "3-4"]}}],
               "mark": {"type": "point", "shape": "diamond", "filled": true, "size": 300, "opacity": 1},
               "encoding": {"color": {"datum": "最大荷重", "type": "nominal", "scale": {"domain": ["試験体3-2", "試験体3-4", "最大荷重"], "range": ["#0000ff", "#ffa500", "#000000"]}}}},
              {"data": {"name": "boxes"}, "transform": [{"filter": "datum.p === 'e'"}],
               "mark": {"type": "rect", "fill": "white", "stroke": "black", "strokeWidth": 1.5},
               "encoding": {"x2": {"field": "x2"}, "y2": {"field": "y2"}}},
              {"data": {"name": "boxes"}, "transform": [{"filter": "datum.p === 'e'"}, {"calculate": "(datum.x + datum.x2) / 2", "as": "xm"}, {"calculate": "(datum.y + datum.y2) / 2", "as": "ym"}],
               "mark": {"type": "text", "fontSize": 17, "color": "black"},
               "encoding": {
                 "x": {"field": "xm", "type": "quantitative", "scale": {"domain": [0, 0.06], "nice": false}, "title": "Rotation Angle of Member[rad]", "axis": {"values": [0, 0.01, 0.02, 0.03, 0.04, 0.05, 0.06]}},
                 "y": {"field": "ym", "type": "quantitative", "scale": {"domain": [0, 1.6], "nice": false}, "title": "Load 2P/2Pu下限値[-]", "axis": {"values": [0, 0.2, 0.4, 0.6, 0.8, 1.0, 1.2, 1.4, 1.6]}},
                 "text": {"field": "t"}}}
            ]},
            {"data": {"name": "peaks"}, "mark": {"type": "point", "opacity": 0},
             "encoding": {
               "x": {"field": "x", "type": "quantitative", "scale": {"domain": [0, 0.06], "nice": false}, "axis": {"orient": "top", "labels": false, "grid": false, "title": null, "values": [0, 0.01, 0.02, 0.03, 0.04, 0.05, 0.06]}},
               "y": {"field": "y", "type": "quantitative", "scale": {"domain": [0, 1.6], "nice": false}, "axis": {"orient": "right", "labels": false, "grid": false, "title": null, "values": [0, 0.2, 0.4, 0.6, 0.8, 1.0, 1.2, 1.4, 1.6]}}}},
            {"data": {"name": "dividers"}, "transform": [{"filter": "datum.d === 'b2'"}],
             "mark": {"type": "rule", "clip": false, "opacity": 0},
             "encoding": {
               "x": {"field": "x", "type": "quantitative", "scale": {"domain": [0, 0.06], "nice": false}, "axis": null},
               "y": {"field": "y", "type": "quantitative", "scale": {"domain": [0, 1.6], "nice": false}, "axis": null},
               "y2": {"field": "y2"}}}
          ],
          "resolve": {"axis": {"x": "independent", "y": "independent"}}
        },
        {
          "width": 334, "height": 166,
          "title": {"text": "(c)CB の有無", "orient": "bottom", "anchor": "middle", "dx": -10},
          "encoding": {
            "x": {"field": "x", "type": "quantitative", "scale": {"domain": [0, 0.06], "nice": false}, "title": "Rotation Angle of Member[rad]", "axis": {"values": [0, 0.01, 0.02, 0.03, 0.04, 0.05, 0.06]}},
            "y": {"field": "y", "type": "quantitative", "scale": {"domain": [0, 1.6], "nice": false}, "title": "Load 2P/2Pu下限値[-]", "axis": {"values": [0, 0.2, 0.4, 0.6, 0.8, 1.0, 1.2, 1.4, 1.6]}}
          },
          "layer": [
            {"layer": [
              {"data": {"name": "s33"}, "mark": {"type": "line", "clip": true, "strokeWidth": 2},
               "encoding": {"order": {"value": null}, "color": {"datum": "試験体3-3", "type": "nominal", "scale": {"domain": ["試験体3-3", "試験体3-4", "最大荷重"], "range": ["#00ee00", "#ffa500", "#000000"]},
                 "legend": {"orient": "none", "legendX": 58, "legendY": 114, "title": null, "columns": 2, "direction": "horizontal",
                   "encode": {"symbols": {"update": {
                     "shape": {"signal": "datum.value === '最大荷重' ? 'diamond' : 'stroke'"},
                     "size": {"signal": "datum.value === '最大荷重' ? 120 : 1000"},
                     "fill": {"signal": "datum.value === '最大荷重' ? '#000000' : 'transparent'"},
                     "strokeDash": {"signal": "indexof(['試験体2-2', '試験体2-4'], datum.value) >= 0 ? [0.5, 5.5] : [1, 0]"},
                     "strokeWidth": {"signal": "indexof(['試験体2-2', '試験体2-4'], datum.value) >= 0 ? 4 : (datum.value === '最大荷重' ? 1 : 2.5)"},
                     "strokeCap": {"value": "round"}}}}}}}},
              {"data": {"name": "s34"}, "mark": {"type": "line", "clip": true, "strokeWidth": 2},
               "encoding": {"order": {"value": null}, "color": {"datum": "試験体3-4", "type": "nominal", "scale": {"domain": ["試験体3-3", "試験体3-4", "最大荷重"], "range": ["#00ee00", "#ffa500", "#000000"]}}}},
              {"data": {"name": "leaders"}, "transform": [{"filter": "datum.p === 'f'"}],
               "mark": {"type": "rule", "color": "black", "strokeWidth": 1},
               "encoding": {"x2": {"field": "x2"}, "y2": {"field": "y2"}}},
              {"data": {"name": "peaks"}, "transform": [{"filter": {"field": "k", "oneOf": ["3-3", "3-4"]}}],
               "mark": {"type": "point", "shape": "diamond", "filled": true, "size": 300, "opacity": 1},
               "encoding": {"color": {"datum": "最大荷重", "type": "nominal", "scale": {"domain": ["試験体3-3", "試験体3-4", "最大荷重"], "range": ["#00ee00", "#ffa500", "#000000"]}}}},
              {"data": {"name": "boxes"}, "transform": [{"filter": "datum.p === 'f'"}],
               "mark": {"type": "rect", "fill": "white", "stroke": "black", "strokeWidth": 1.5},
               "encoding": {"x2": {"field": "x2"}, "y2": {"field": "y2"}}},
              {"data": {"name": "boxes"}, "transform": [{"filter": "datum.p === 'f'"}, {"calculate": "(datum.x + datum.x2) / 2", "as": "xm"}, {"calculate": "(datum.y + datum.y2) / 2", "as": "ym"}],
               "mark": {"type": "text", "fontSize": 17, "color": "black"},
               "encoding": {
                 "x": {"field": "xm", "type": "quantitative", "scale": {"domain": [0, 0.06], "nice": false}, "title": "Rotation Angle of Member[rad]", "axis": {"values": [0, 0.01, 0.02, 0.03, 0.04, 0.05, 0.06]}},
                 "y": {"field": "ym", "type": "quantitative", "scale": {"domain": [0, 1.6], "nice": false}, "title": "Load 2P/2Pu下限値[-]", "axis": {"values": [0, 0.2, 0.4, 0.6, 0.8, 1.0, 1.2, 1.4, 1.6]}},
                 "text": {"field": "t"}}}
            ]},
            {"data": {"name": "peaks"}, "mark": {"type": "point", "opacity": 0},
             "encoding": {
               "x": {"field": "x", "type": "quantitative", "scale": {"domain": [0, 0.06], "nice": false}, "axis": {"orient": "top", "labels": false, "grid": false, "title": null, "values": [0, 0.01, 0.02, 0.03, 0.04, 0.05, 0.06]}},
               "y": {"field": "y", "type": "quantitative", "scale": {"domain": [0, 1.6], "nice": false}, "axis": {"orient": "right", "labels": false, "grid": false, "title": null, "values": [0, 0.2, 0.4, 0.6, 0.8, 1.0, 1.2, 1.4, 1.6]}}}},
            {"data": {"name": "dividers"}, "transform": [{"filter": "datum.d === 'c2'"}],
             "mark": {"type": "rule", "clip": false, "color": "#222222", "strokeWidth": 1},
             "encoding": {
               "x": {"field": "x", "type": "quantitative", "scale": {"domain": [0, 0.06], "nice": false}, "axis": null},
               "y": {"field": "y", "type": "quantitative", "scale": {"domain": [0, 1.6], "nice": false}, "axis": null},
               "y2": {"field": "y2"}}}
          ],
          "resolve": {"axis": {"x": "independent", "y": "independent"}}
        }
      ],
      "spacing": 8,
      "resolve": {"scale": {"color": "independent"}, "legend": {"color": "independent"}}
    }
  ],
  "spacing": -5,
  "resolve": {"scale": {"color": "independent"}, "legend": {"color": "independent"}},
  "config": {
    "font": "Noto Sans CJK JP",
    "view": {"stroke": "black", "strokeWidth": 2},
    "axis": {
      "domain": false, "grid": true, "gridColor": "#999999", "gridDash": [3, 3], "gridWidth": 1,
      "ticks": true, "tickColor": "black", "tickSize": -8, "tickWidth": 2,
      "labelFont": "Liberation Sans", "labelFontSize": 16, "labelColor": "black",
      "labelFlush": false, "labelOverlap": false, "labelBound": false,
      "titleFont": "Noto Sans CJK JP", "titleFontWeight": "normal", "titleColor": "black"
    },
    "axisX": {"labelPadding": 24, "titlePadding": 2, "titleFontSize": 17, "labelExpr": "round(datum.value * 100) % 2 === 0 ? format(datum.value, '.2f') : ''"},
    "axisY": {"labelPadding": 18, "titlePadding": 3, "titleFontSize": 18.5, "labelExpr": "round(datum.value * 10) % 4 === 0 ? format(datum.value, '.1f') : ''"},
    "legend": {
      "labelFont": "Noto Sans CJK JP", "labelFontSize": 19, "labelColor": "black", "padding": 5,
      "columnPadding": 14, "rowPadding": 3, "strokeColor": "black", "fillColor": "white",
      "symbolSize": 1000, "symbolType": "stroke", "labelOffset": 10, "symbolStrokeWidth": 2.5, "labelLimit": 300
    },
    "title": {"font": "Liberation Serif, DejaVu Serif, Noto Sans CJK JP", "fontSize": 23, "fontWeight": "normal", "color": "black", "offset": -30}
  }
}
